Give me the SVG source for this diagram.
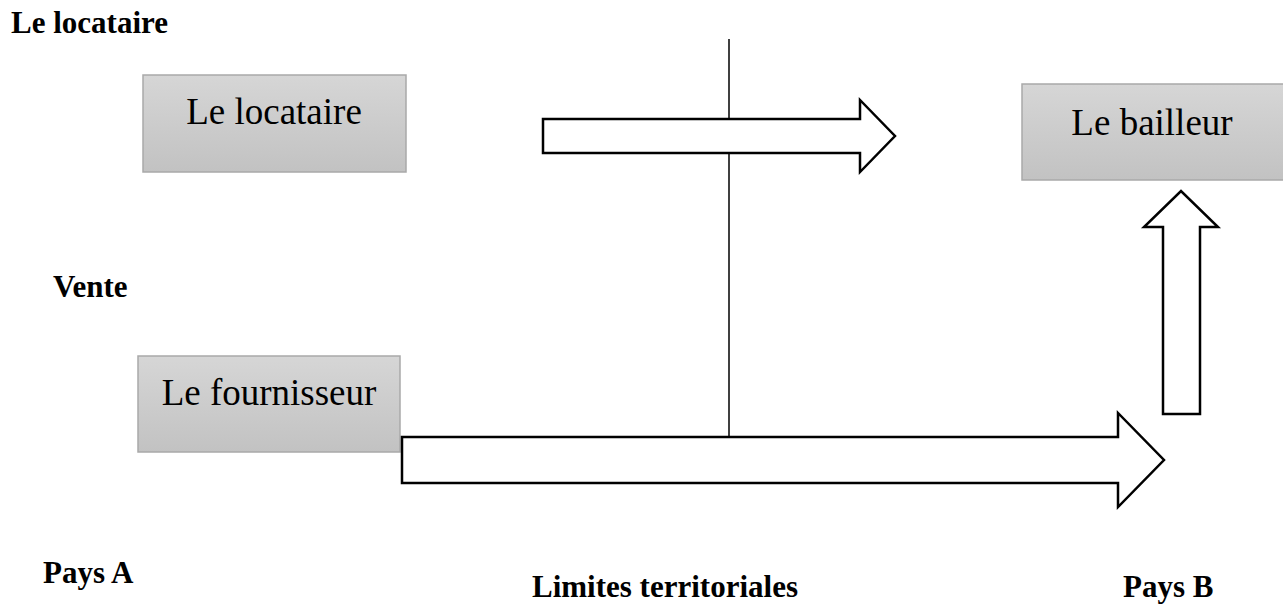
<svg xmlns="http://www.w3.org/2000/svg" width="1283" height="607" viewBox="0 0 1283 607">
  <defs>
    <linearGradient id="boxFill" x1="0" y1="0" x2="0" y2="1">
      <stop offset="0" stop-color="#d6d6d6"/>
      <stop offset="1" stop-color="#c2c2c2"/>
    </linearGradient>
  </defs>
  <style>
    .box { fill: url(#boxFill); stroke: #a9a9a9; stroke-width: 1.5; }
    .boxText { font-family: "Liberation Serif", "Times New Roman", serif; font-size: 37px; fill: #000; text-anchor: middle; }
    .label { font-family: "Liberation Serif", "Times New Roman", serif; font-size: 31px; font-weight: bold; fill: #000; }
    .arrow { fill: #fff; stroke: #000; stroke-width: 2.5; stroke-linejoin: miter; }
    .border { stroke: #000; stroke-width: 1.5; fill: none; }
  </style>

  <rect width="1283" height="607" fill="#fff"/>

  <!-- Free labels -->
  <g id="labels">
    <text class="label" x="11" y="33">Le locataire</text>
    <text class="label" x="53" y="297">Vente</text>
    <text class="label" x="43" y="583">Pays A</text>
    <text class="label" x="532" y="597">Limites territoriales</text>
    <text class="label" x="1123" y="597">Pays B</text>
  </g>

  <!-- Nodes -->
  <g id="locataire">
    <rect class="box" x="143" y="75" width="263" height="97"/>
    <text class="boxText" x="274" y="124">Le locataire</text>
  </g>
  <g id="bailleur">
    <rect class="box" x="1022" y="84" width="263" height="96"/>
    <text class="boxText" x="1152" y="135">Le bailleur</text>
  </g>
  <g id="fournisseur">
    <rect class="box" x="138" y="356" width="262" height="96"/>
    <text class="boxText" x="269" y="405">Le fournisseur</text>
  </g>

  <!-- Connectors -->
  <g id="connectors">
    <line class="border" x1="729" y1="39" x2="729" y2="437"/>
    <polygon class="arrow" points="543,119 860,119 860,100 895,136 860,172 860,153 543,153"/>
    <polygon class="arrow" points="402,437 1118,437 1118,413 1164,460 1118,507 1118,483 402,483"/>
    <polygon class="arrow" points="1163,414 1163,227 1144,227 1181,191 1218,227 1200,227 1200,414"/>
  </g>
</svg>
